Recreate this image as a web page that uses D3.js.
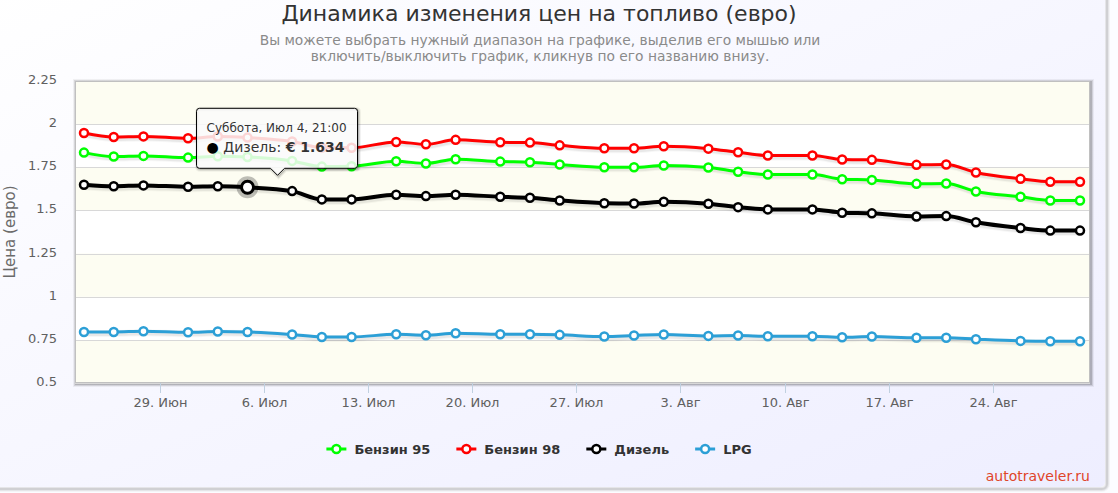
<!DOCTYPE html>
<html>
<head>
<meta charset="utf-8">
<script src="https://cdn.jsdelivr.net/npm/d3@7"></script>
<style>
  body { margin: 0; background: #fcfcff; }
  svg text { font-family: "DejaVu Sans", sans-serif; }
</style>
</head>
<body>
<svg id="chart" width="1118" height="493"></svg>
<script>
// Data (2015, prices in euro, each point at 21:00)
const dates = [
  "2015-06-23", "2015-06-25", "2015-06-27", "2015-06-30", "2015-07-02", "2015-07-04",
  "2015-07-07", "2015-07-09", "2015-07-11", "2015-07-14", "2015-07-16", "2015-07-18",
  "2015-07-21", "2015-07-23", "2015-07-25", "2015-07-28", "2015-07-30", "2015-08-01",
  "2015-08-04", "2015-08-06", "2015-08-08", "2015-08-11", "2015-08-13", "2015-08-15",
  "2015-08-18", "2015-08-20", "2015-08-22", "2015-08-25", "2015-08-27", "2015-08-29"
];
const benzin95 = [
  1.835, 1.812, 1.816, 1.806, 1.814, 1.810, 1.787, 1.754, 1.756, 1.785,
  1.772, 1.797, 1.783, 1.779, 1.766, 1.750, 1.750, 1.760, 1.749, 1.724,
  1.708, 1.708, 1.681, 1.677, 1.654, 1.656, 1.610, 1.579, 1.558, 1.558
];
const benzin98 = [
  1.949, 1.926, 1.929, 1.918, 1.928, 1.922, 1.899, 1.864, 1.863, 1.897,
  1.883, 1.909, 1.895, 1.893, 1.877, 1.860, 1.860, 1.872, 1.858, 1.837,
  1.818, 1.818, 1.795, 1.793, 1.764, 1.766, 1.720, 1.683, 1.666, 1.666
];
const diesel = [
  1.649, 1.640, 1.645, 1.637, 1.640, 1.634, 1.612, 1.564, 1.564, 1.591,
  1.583, 1.591, 1.579, 1.573, 1.558, 1.542, 1.540, 1.550, 1.539, 1.519,
  1.506, 1.506, 1.487, 1.483, 1.465, 1.467, 1.431, 1.398, 1.383, 1.383
];
const lpg = [
  0.796, 0.796, 0.800, 0.794, 0.798, 0.796, 0.781, 0.767, 0.767, 0.782,
  0.777, 0.788, 0.782, 0.782, 0.779, 0.769, 0.775, 0.781, 0.773, 0.775,
  0.771, 0.771, 0.765, 0.769, 0.762, 0.762, 0.754, 0.744, 0.742, 0.742
];
const seriesNames = ["Бензин 95", "Бензин 98", "Дизель", "LPG"];
const seriesColors = ["#00ff00", "#ff0000", "#000000", "#2c9fd6"];
const yTicks = [0.5, 0.75, 1, 1.25, 1.5, 1.75, 2, 2.25];
const monthShort = ["Янв", "Фев", "Мар", "Апр", "Май", "Июн", "Июл", "Авг", "Сен", "Окт", "Ноя", "Дек"];
const weekdays = ["Воскресенье", "Понедельник", "Вторник", "Среда", "Четверг", "Пятница", "Суббота"];
const pointHour = 21;
const hoverSeries = 2;   // Дизель
const hoverIndex = 5;    // Jul 4

const titleText = "Динамика изменения цен на топливо (евро)";
const subtitleLines = [
  "Вы можете выбрать нужный диапазон на графике, выделив его мышью или",
  "включить/выключить график, кликнув по его названию внизу."
];
const yAxisTitle = "Цена (евро)";
const creditText = "autotraveler.ru";

const parseDay = d3.timeParse("%Y-%m-%d");
const times = dates.map((s) => d3.timeHour.offset(parseDay(s), pointHour));
const seriesValues = [benzin95, benzin98, diesel, lpg];

// Layout
const width = 1118, height = 493;
const plot = { left: 75, right: 1090, top: 81, bottom: 383 };

const svg = d3.select("#chart");
const defs = svg.append("defs");

const bgGrad = defs.append("linearGradient")
  .attr("id", "bg-grad")
  .attr("x1", 0).attr("y1", 0).attr("x2", 1).attr("y2", 1);
bgGrad.append("stop").attr("offset", 0).attr("stop-color", "#ffffff");
bgGrad.append("stop").attr("offset", 1).attr("stop-color", "#eeeeff");

// Chart background with shadow
[6, 4, 2].forEach((w, i) => {
  svg.append("rect")
    .attr("x", -10).attr("y", -10)
    .attr("width", 1115 + 1).attr("height", 497 + 1)
    .attr("rx", 5)
    .attr("fill", "none")
    .attr("stroke", "black")
    .attr("stroke-opacity", 0.03 * (i + 1))
    .attr("stroke-width", w)
    .attr("transform", "translate(1,1)");
});
svg.append("rect")
  .attr("x", -10).attr("y", -10)
  .attr("width", 1115).attr("height", 497)
  .attr("rx", 5)
  .attr("fill", "url(#bg-grad)");

// Scales
const x = d3.scaleTime()
  .domain([times[0], times[times.length - 1]])
  .range([84, 1080]);
const y = d3.scaleLinear()
  .domain([yTicks[0], yTicks[yTicks.length - 1]])
  .range([plot.bottom, plot.top]);

// Plot shadow
[6, 4, 2].forEach((w, i) => {
  svg.append("rect")
    .attr("x", plot.left).attr("y", plot.top)
    .attr("width", plot.right - plot.left).attr("height", plot.bottom - plot.top)
    .attr("fill", "none")
    .attr("stroke", "black")
    .attr("stroke-opacity", 0.05 * (i + 1))
    .attr("stroke-width", w)
    .attr("transform", "translate(1,1)");
});
svg.append("rect")
  .attr("x", plot.left).attr("y", plot.top)
  .attr("width", plot.right - plot.left).attr("height", plot.bottom - plot.top)
  .attr("fill", "#ffffff");

// Alternate bands
const bands = d3.pairs(yTicks).filter((p, i) => i % 2 === 0);
svg.append("g")
  .selectAll("rect")
  .data(bands)
  .enter()
  .append("rect")
  .attr("x", plot.left)
  .attr("width", plot.right - plot.left)
  .attr("y", (d) => y(d[1]))
  .attr("height", (d) => y(d[0]) - y(d[1]))
  .attr("fill", "#fdfdf2");

// Grid lines
svg.append("g")
  .selectAll("line")
  .data(yTicks)
  .enter()
  .append("line")
  .attr("x1", plot.left).attr("x2", plot.right)
  .attr("y1", (d) => Math.round(y(d)) + 0.5)
  .attr("y2", (d) => Math.round(y(d)) + 0.5)
  .attr("stroke", "#d8d8d8")
  .attr("stroke-width", 1);

// Plot border
svg.append("rect")
  .attr("x", plot.left + 0.5).attr("y", plot.top + 0.5)
  .attr("width", plot.right - plot.left - 1).attr("height", plot.bottom - plot.top - 1)
  .attr("fill", "none")
  .attr("stroke", "#c0c0c0")
  .attr("stroke-width", 1);

// Y axis labels
svg.append("g")
  .selectAll("text")
  .data(yTicks)
  .enter()
  .append("text")
  .attr("x", 57)
  .attr("y", (d) => y(d) + 3)
  .attr("text-anchor", "end")
  .attr("font-size", 13)
  .attr("fill", "#606060")
  .text((d) => d3.format("~g")(d));

svg.append("text")
  .attr("transform", `translate(15,${(plot.top + plot.bottom) / 2}) rotate(-90)`)
  .attr("text-anchor", "middle")
  .attr("font-size", 15)
  .attr("fill", "#6a6a6a")
  .text(yAxisTitle);

// X axis ticks and labels
const xTicks = x.ticks(d3.timeMonday.every(1));
const xAxis = svg.append("g")
  .selectAll("g")
  .data(xTicks)
  .enter()
  .append("g")
  .attr("transform", (d) => `translate(${Math.round(x(d)) + 0.5},0)`);
xAxis.append("line")
  .attr("y1", plot.bottom).attr("y2", plot.bottom + 10)
  .attr("stroke", "#c0d0e0")
  .attr("stroke-width", 1);
xAxis.append("text")
  .attr("y", plot.bottom + 24)
  .attr("text-anchor", "middle")
  .attr("font-size", 13)
  .attr("fill", "#606060")
  .text((d) => `${d.getDate()}. ${monthShort[d.getMonth()]}`);

// Series
const line = d3.line()
  .x((d, i) => x(times[i]))
  .y((d) => y(d))
  .curve(d3.curveMonotoneX);

seriesValues.forEach((values, s) => {
  const g = svg.append("g");
  const lw = s === hoverSeries ? 4 : 3;
  [4, 2].forEach((extra, k) => {
    g.append("path")
      .datum(values)
      .attr("d", line)
      .attr("fill", "none")
      .attr("stroke", "black")
      .attr("stroke-opacity", 0.03 * (k + 1))
      .attr("stroke-width", lw + extra)
      .attr("transform", "translate(1,1.5)");
  });
  g.append("path")
    .datum(values)
    .attr("d", line)
    .attr("fill", "none")
    .attr("stroke", seriesColors[s])
    .attr("stroke-width", lw)
    .attr("stroke-linejoin", "round");
  g.selectAll("circle")
    .data(values)
    .enter()
    .append("circle")
    .attr("cx", (d, i) => x(times[i]))
    .attr("cy", (d) => y(d))
    .attr("r", 4)
    .attr("fill", "#ffffff")
    .attr("stroke", seriesColors[s])
    .attr("stroke-width", 2.5);
});

// Hovered point
const hx = x(times[hoverIndex]);
const hy = y(seriesValues[hoverSeries][hoverIndex]);
svg.append("circle")
  .attr("cx", hx).attr("cy", hy).attr("r", 11)
  .attr("fill", "#000000").attr("fill-opacity", 0.25);
svg.append("circle")
  .attr("cx", hx).attr("cy", hy).attr("r", 6)
  .attr("fill", "#ffffff")
  .attr("stroke", seriesColors[hoverSeries])
  .attr("stroke-width", 3);

// Tooltip
const tip = { x: hx - 51, y: hy - 79, w: 161, h: 60, ax: hx + 30 };
const tipPath = `M${tip.x + 3},${tip.y} H${tip.x + tip.w - 3} Q${tip.x + tip.w},${tip.y} ${tip.x + tip.w},${tip.y + 3}` +
  ` V${tip.y + tip.h - 3} Q${tip.x + tip.w},${tip.y + tip.h} ${tip.x + tip.w - 3},${tip.y + tip.h}` +
  ` H${tip.ax + 7} L${tip.ax},${tip.y + tip.h + 7} L${tip.ax - 7},${tip.y + tip.h}` +
  ` H${tip.x + 3} Q${tip.x},${tip.y + tip.h} ${tip.x},${tip.y + tip.h - 3} V${tip.y + 3} Q${tip.x},${tip.y} ${tip.x + 3},${tip.y} Z`;
const tipG = svg.append("g");
[5, 3, 1].forEach((w, k) => {
  tipG.append("path")
    .attr("d", tipPath)
    .attr("fill", "none")
    .attr("stroke", "black")
    .attr("stroke-opacity", 0.05 * (k + 1))
    .attr("stroke-width", w)
    .attr("transform", "translate(1,1)");
});
tipG.append("path")
  .attr("d", tipPath)
  .attr("fill", "rgba(250,250,250,0.85)")
  .attr("stroke", seriesColors[hoverSeries])
  .attr("stroke-width", 1);

const ht = times[hoverIndex];
tipG.append("text")
  .attr("x", tip.x + 10)
  .attr("y", tip.y + 24)
  .attr("font-size", 12)
  .attr("fill", "#333333")
  .text(`${weekdays[ht.getDay()]}, ${monthShort[ht.getMonth()]} ${ht.getDate()}, ${d3.timeFormat("%H:%M")(ht)}`);
const valueLine = tipG.append("text")
  .attr("x", tip.x + 10)
  .attr("y", tip.y + 44)
  .attr("font-size", 14)
  .attr("fill", "#333333");
valueLine.append("tspan").attr("fill", seriesColors[hoverSeries]).text("● ");
valueLine.append("tspan").text(`${seriesNames[hoverSeries]}: `);
valueLine.append("tspan").attr("font-weight", "bold")
  .text(`€ ${d3.format(".3f")(seriesValues[hoverSeries][hoverIndex])}`);

// Title and subtitle
svg.append("text")
  .attr("x", 539).attr("y", 21)
  .attr("text-anchor", "middle")
  .attr("font-size", 22)
  .attr("fill", "#333333")
  .text(titleText);
svg.append("g")
  .selectAll("text")
  .data(subtitleLines)
  .enter()
  .append("text")
  .attr("x", 540)
  .attr("y", (d, i) => 45 + i * 16)
  .attr("text-anchor", "middle")
  .attr("font-size", 13.8)
  .attr("fill", "#8a8a8a")
  .text((d) => d);

// Legend
const legend = svg.append("g");
const legendItems = legend.selectAll("g")
  .data(seriesNames)
  .enter()
  .append("g");
legendItems.append("line")
  .attr("x1", 0).attr("x2", 20).attr("y1", 0).attr("y2", 0)
  .attr("stroke", (d, i) => seriesColors[i])
  .attr("stroke-width", 3);
legendItems.append("circle")
  .attr("cx", 10).attr("cy", 0).attr("r", 4)
  .attr("fill", "#ffffff")
  .attr("stroke", (d, i) => seriesColors[i])
  .attr("stroke-width", 2.5);
legendItems.append("text")
  .attr("x", 28).attr("y", 5)
  .attr("font-size", 13)
  .attr("font-weight", "bold")
  .attr("fill", "#333333")
  .text((d) => d);
let lx = 0;
legendItems.each(function () {
  const w = d3.select(this).select("text").node().getComputedTextLength();
  d3.select(this).attr("transform", `translate(${lx},0)`);
  lx += 28 + w + 26;
});
const legendWidth = lx - 26;
legend.attr("transform", `translate(${539 - legendWidth / 2},449)`);

// Credit
svg.append("text")
  .attr("x", 1090).attr("y", 481)
  .attr("text-anchor", "end")
  .attr("font-family", "'Liberation Sans', sans-serif")
  .attr("font-size", 14)
  .attr("fill", "#e0452a")
  .text(creditText);
</script>
</body>
</html>
